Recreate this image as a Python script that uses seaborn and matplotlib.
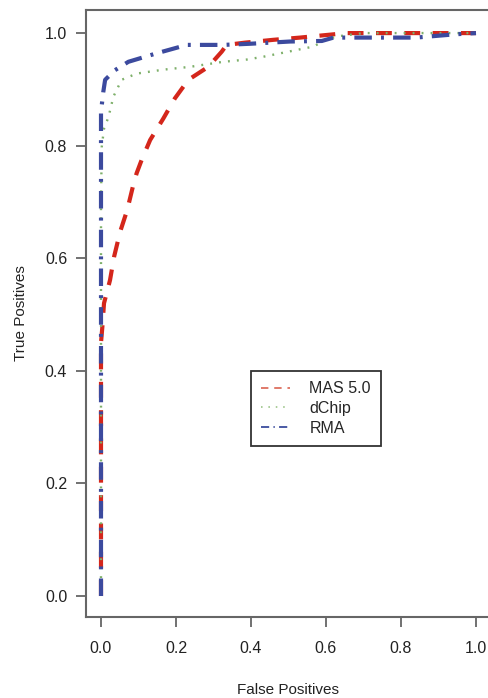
import matplotlib
matplotlib.use("Agg")
import matplotlib.pyplot as plt
import seaborn as sns
import pandas as pd

# ---- data ----
mas_fp = [0, 0, 0.004, 0.008, 0.024, 0.035, 0.051, 0.070, 0.086, 0.095, 0.108, 0.131,
          0.166, 0.197, 0.233, 0.286, 0.322, 0.335, 0.384, 0.459, 0.531, 0.592, 0.655, 0.8, 1.0]
mas_tp = [0, 0.45, 0.481, 0.520, 0.561, 0.603, 0.647, 0.686, 0.730, 0.751, 0.774, 0.810,
          0.848, 0.884, 0.917, 0.940, 0.967, 0.979, 0.983, 0.988, 0.992, 0.996, 1.0, 1.0, 1.0]

dchip_fp = [0, 0, 0.002, 0.008, 0.020, 0.033, 0.055, 0.095, 0.166, 0.237, 0.326, 0.389,
            0.433, 0.522, 0.566, 0.600, 0.628, 0.700, 1.0]
dchip_tp = [0, 0.70, 0.798, 0.830, 0.851, 0.887, 0.917, 0.928, 0.935, 0.940, 0.949, 0.953,
            0.958, 0.970, 0.976, 0.988, 0.994, 1.0, 1.0]

rma_fp = [0, 0, 0.006, 0.011, 0.037, 0.073, 0.148, 0.229, 0.326, 0.397, 0.504, 0.589,
          0.620, 0.682, 0.840, 0.948, 1.0]
rma_tp = [0, 0.86, 0.895, 0.917, 0.934, 0.949, 0.964, 0.979, 0.979, 0.981, 0.985, 0.986,
          0.992, 0.992, 0.992, 0.998, 1.0]

series_names = ["MAS 5.0", "dChip", "RMA"]
tick_values = [0.0, 0.2, 0.4, 0.6, 0.8, 1.0]
tick_labels = ["0.0", "0.2", "0.4", "0.6", "0.8", "1.0"]

# ---- style ----
sns.set_theme(style="ticks")
plt.rcParams["font.family"] = ["Liberation Sans", "DejaVu Sans"]

W, H = 489, 698
fig = plt.figure(figsize=(W / 100, H / 100), dpi=100)
ax = fig.add_axes([86 / W, 1 - 617 / H, 405 / W, 607 / H])

red = "#d4261b"
green = "#7eb06a"
blue = "#3c4a9e"

data = [
    (mas_fp, mas_tp, series_names[0], red, 3.0, (3.8, 3.0)),
    (dchip_fp, dchip_tp, series_names[1], green, 1.7, (0.8, 3.0)),
    (rma_fp, rma_tp, series_names[2], blue, 3.0, (4.2, 2.2, 0.7, 2.2)),
]
lines = []
for fp, tp, name, col, lw, dash in data:
    df = pd.DataFrame({"fp": fp, "tp": tp})
    n_before = len(ax.lines)
    sns.lineplot(data=df, x="fp", y="tp", sort=False, estimator=None, ax=ax,
                 color=col, linewidth=lw, label=name, legend=False)
    ln = ax.lines[n_before]
    ln.set_dashes(dash)
    ln.set_dash_capstyle("butt")
    lines.append(ln)

ax.set_xlim(-0.04, 1.04)
ax.set_ylim(-0.0373, 1.041)
ax.set_xticks(tick_values)
ax.set_xticklabels(tick_labels)
ax.set_yticks(tick_values)
ax.set_yticklabels(tick_labels)

frame_col = "#666666"
for s in ax.spines.values():
    s.set_visible(True)
    s.set_color(frame_col)
    s.set_linewidth(1.5)

ax.tick_params(axis="both", direction="out", length=7, width=1.3, color=frame_col,
               labelsize=11.5, labelcolor="#222222")
ax.tick_params(axis="x", pad=10.5)
ax.tick_params(axis="y", pad=6.5)

ax.set_xlabel("False Positives", fontsize=11, color="#222222", labelpad=19)
ax.set_ylabel("True Positives", fontsize=11, color="#222222", labelpad=12)

leg = ax.legend(handles=lines, labels=series_names, loc="upper left",
                bbox_to_anchor=(0.40, 0.40), bbox_transform=ax.transData,
                fontsize=11.5, frameon=True, fancybox=False, framealpha=1,
                edgecolor="#333333", handlelength=1.8, handletextpad=1.2,
                labelspacing=0.3, borderpad=0.65, borderaxespad=0)
leg.get_frame().set_linewidth(1.3)
leg_colors = ["#e07a6a", "#a9cc98", "#4a5aa5"]
for h, c in zip(leg.get_lines(), leg_colors):
    h.set_linewidth(1.4)
    h.set_color(c)

fig.savefig("out.png", dpi=100)
